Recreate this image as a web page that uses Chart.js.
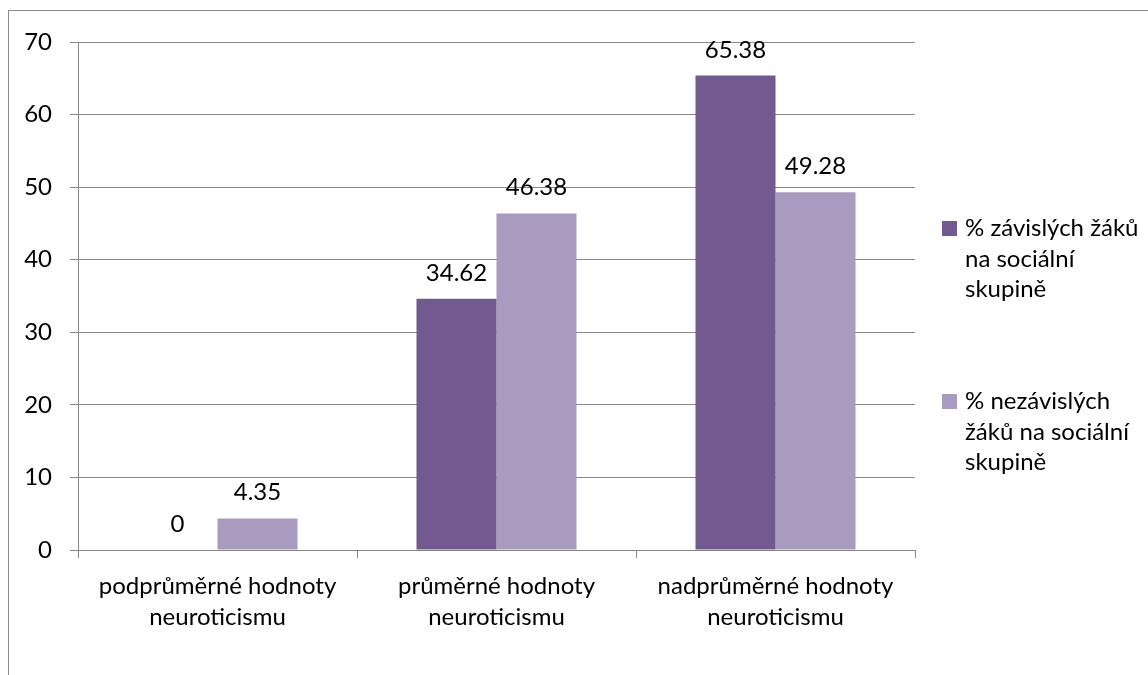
<!DOCTYPE html>
<html>
<head>
<meta charset="utf-8">
<script src="https://cdn.jsdelivr.net/npm/chart.js@4/dist/chart.umd.min.js"></script>
<style>
  html, body { margin: 0; padding: 0; background: #ffffff; }
  #wrap { position: relative; width: 1148px; height: 675px; }
</style>
</head>
<body>
<div id="wrap"><canvas id="c" width="1148" height="675"></canvas></div>
<script>
// Categories (multi-line axis labels)
const categories = [
  ["podprůměrné hodnoty", "neuroticismu"],
  ["průměrné hodnoty", "neuroticismu"],
  ["nadprůměrné hodnoty", "neuroticismu"]
];
// Series values (%)
const dependentValues = [0, 34.62, 65.38];
const independentValues = [4.35, 46.38, 49.28];
// Series names, as wrapped in the legend
const dependentName = ["% závislých žáků", "na sociální", "skupině"];
const independentName = ["% nezávislých", "žáků na sociální", "skupině"];
// Y axis ticks
const yMin = 0, yMax = 70, yStep = 10;

const FONT = "Lato, 'Open Sans', sans-serif";
const FSIZE = 24;
const GRID = "#878787";
const DARK = "#725990";
const LIGHT = "#a99bbf";

// Outer chart frame
const framePlugin = {
  id: 'frame',
  beforeDraw(chart) {
    const ctx = chart.ctx;
    ctx.save();
    ctx.strokeStyle = "#8c8c8c";
    ctx.lineWidth = 1;
    ctx.strokeRect(8.5, 10.5, 2000, 2000);
    ctx.restore();
  }
};

// Value labels above each bar
const valueLabels = {
  id: 'valueLabels',
  afterDatasetsDraw(chart) {
    const ctx = chart.ctx;
    ctx.save();
    ctx.font = FSIZE + "px " + FONT;
    ctx.fillStyle = "#000000";
    ctx.textAlign = "center";
    ctx.textBaseline = "alphabetic";
    chart.data.datasets.forEach((ds, di) => {
      chart.getDatasetMeta(di).data.forEach((bar, i) => {
        ctx.fillText(String(ds.data[i]), bar.x, bar.y - 18);
      });
    });
    ctx.restore();
  }
};

// Legend at the right with wrapped names
const sideLegend = {
  id: 'sideLegend',
  afterDraw(chart) {
    const ctx = chart.ctx;
    ctx.save();
    ctx.font = FSIZE + "px " + FONT;
    ctx.textBaseline = "alphabetic";
    ctx.textAlign = "left";
    const entries = [
      { lines: dependentName, color: DARK, y: 236 },
      { lines: independentName, color: LIGHT, y: 409 }
    ];
    entries.forEach(e => {
      ctx.fillStyle = e.color;
      ctx.fillRect(942, e.y - 15, 15, 15);
      ctx.fillStyle = "#000000";
      e.lines.forEach((ln, k) => ctx.fillText(ln, 965, e.y + k * 30.7));
    });
    ctx.restore();
  }
};

new Chart(document.getElementById('c'), {
  type: 'bar',
  data: {
    labels: categories,
    datasets: [
      { label: dependentName.join(" "), data: dependentValues, backgroundColor: DARK,
        categoryPercentage: 0.5735, barPercentage: 1.0 },
      { label: independentName.join(" "), data: independentValues, backgroundColor: LIGHT,
        categoryPercentage: 0.5735, barPercentage: 1.0 }
    ]
  },
  options: {
    responsive: false,
    animation: false,
    devicePixelRatio: 1,
    layout: { padding: { top: 42, right: 233, bottom: 0, left: 9 } },
    plugins: { legend: { display: false }, tooltip: { enabled: false } },
    scales: {
      x: {
        afterFit(scale) { scale.height = 125; },
        grid: { offset: true, drawOnChartArea: false, drawTicks: true, tickLength: 8, color: GRID },
        border: { color: GRID, width: 1 },
        ticks: { color: "#000000", font: { family: FONT, size: FSIZE, lineHeight: 31 / FSIZE }, padding: 13, maxRotation: 0, autoSkip: false }
      },
      y: {
        min: yMin, max: yMax,
        afterFit(scale) { scale.width = 69; },
        grid: { color: GRID, tickLength: 8, drawTicks: true },
        border: { color: GRID, width: 1 },
        ticks: { stepSize: yStep, color: "#000000", font: { family: FONT, size: FSIZE }, padding: 18 }
      }
    }
  },
  plugins: [framePlugin, valueLabels, sideLegend]
});
</script>
</body>
</html>
